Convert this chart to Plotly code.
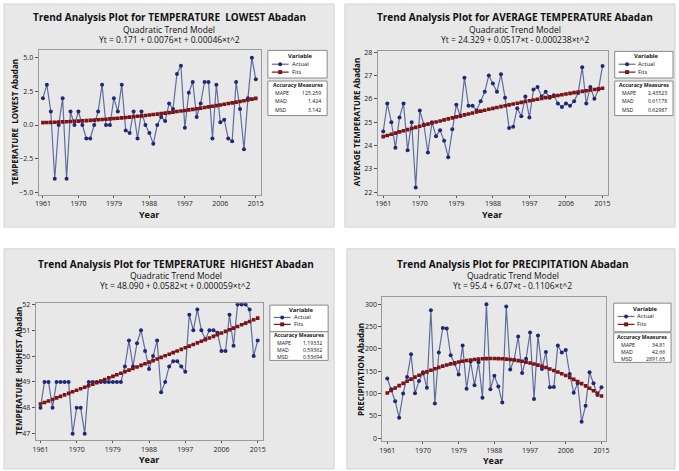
import plotly.graph_objects as go
import numpy as np

W, H = 679, 471

years = list(range(1961, 2016))
year_ticks = [1961, 1970, 1979, 1988, 1997, 2006, 2015]

lowest = [2.0, 3.0, 1.0, -4.0, 0.0, 2.0, -4.0, 1.0, 0.0, 1.0,
          0.0, -1.0, -1.0, 0.0, 1.0, 3.0, 0.0, 0.0, 2.0, 1.0,
          3.0, -0.4, -0.6, 1.0, -1.0, 1.0, 0.0, -0.6, -1.4, 0.0,
          0.6, 0.3, 1.6, 1.2, 3.8, 4.4, -0.2, 2.4, 3.2, 0.6,
          1.6, 3.2, 3.2, -1.0, 3.0, 0.2, 0.4, -1.0, -1.2, 3.2,
          1.2, -1.8, 2.0, 5.0, 3.4]
average = [24.6, 25.8, 25.0, 23.9, 25.2, 25.8, 23.8, 25.0, 22.2, 25.5,
           24.9, 23.7, 25.0, 24.4, 24.65, 24.2, 23.5, 24.7, 25.75, 25.25,
           26.9, 25.7, 25.7, 25.5, 25.9, 26.3, 27.0, 26.65, 26.3, 27.05,
           26.05, 24.75, 24.8, 25.6, 25.25, 26.1, 25.2, 26.4, 26.5, 26.1,
           26.3, 26.05, 26.15, 25.8, 25.65, 25.8, 25.7, 25.9, 26.25, 27.35,
           25.8, 26.5, 26.0, 26.4, 27.4]
highest = [48, 49, 49, 48, 49, 49, 49, 49, 47, 48,
           48, 47, 49, 49, 49, 49, 49, 49, 49, 49,
           49, 49.6, 50.6, 49.6, 50.5, 51.0, 50.2, 49.5, 50.0, 50.6,
           48.6, 49.0, 49.6, 49.8, 49.8, 49.6, 49.4, 51.6, 51.0, 51.8,
           51.0, 50.65, 51.0, 51.0, 50.9, 50.2, 50.2, 51.6, 50.4, 52.0,
           52.0, 52.0, 51.8, 50.0, 50.6]
precip = [134, 110, 83, 46, 100, 137, 188, 101, 128, 148,
          113, 287, 78, 192, 247, 246, 186, 167, 143, 208,
          111, 172, 119, 170, 91, 300, 110, 140, 116, 80,
          295, 154, 176, 228, 146, 178, 237, 88, 230, 155,
          193, 114, 115, 208, 192, 198, 144, 102, 123, 37,
          73, 148, 123, 97, 114]

# Quadratic trend model coefficients as printed on the chart (b0, b1, b2)
coef_lowest = [0.171, 0.0076, 0.00046]
coef_average = [24.329, 0.0517, -0.000238]
coef_highest = [48.090, 0.0582, 0.000059]
coef_precip = [95.4, 6.07, -0.1106]

acc_labels = ["MAPE", "MAD", "MSD"]
acc_lowest = ["125.259", "1.424", "3.142"]
acc_average = ["2.43523", "0.61178", "0.62987"]
acc_highest = ["1.19332", "0.59362", "0.53694"]
acc_precip = ["34.81", "42.66", "2891.65"]

FONT = "Open Sans"
ACT_LINE = "#5f6d9e"
ACT_MARK = "#1f2877"
FIT_COL = "#7a1416"
GRAY = "#e8e8e8"


def X(px):
    return px / W


def Y(py):
    return 1 - py / H


panels = [
    dict(vals=lowest, coef=coef_lowest, acc=acc_lowest,
         title="Trend Analysis Plot for TEMPERATURE  LOWEST Abadan",
         eq="Yt = 0.171 + 0.0076×t + 0.00046×t^2",
         ylab="TEMPERATURE  LOWEST Abadan",
         bg=(0, 0, 334, 226),
         box=(35, 47, 260, 193), xr=[1959.9, 2016.3], yr=[-5.17, 5.55],
         yt=[-5.0, -2.5, 0.0, 2.5, 5.0], yfmt=".1f",
         tx=167, ty=14, ylx=11, yly=120, yearx=147, yeary=213,
         leg=(267, 47, 327, 75), legrows=(53, 61, 69),
         accb=(267, 78, 327, 113), acchead=82.5, accrows=(90, 98.5, 107), combined=False),
    dict(vals=average, coef=coef_average, acc=acc_average,
         title="Trend Analysis Plot for AVERAGE TEMPERATURE Abadan",
         eq="Yt = 24.329 + 0.0517×t - 0.000238×t^2",
         ylab="AVERAGE TEMPERATURE Abadan",
         bg=(345, 0, 679, 226),
         box=(378, 48, 611, 193), xr=[1959.6, 2016.3], yr=[21.9, 28.03],
         yt=[22, 23, 24, 25, 26, 27, 28], yfmt="d",
         tx=517, ty=14, ylx=357, yly=120, yearx=494, yeary=213,
         leg=(618, 48, 677, 75), legrows=(53, 61, 69),
         accb=(618, 78, 677, 113), acchead=82.5, accrows=(90, 98.5, 107), combined=False),
    dict(vals=highest, coef=coef_highest, acc=acc_highest,
         title="Trend Analysis Plot for TEMPERATURE  HIGHEST Abadan",
         eq="Yt = 48.090 + 0.0582×t + 0.000059×t^2",
         ylab="TEMPERATURE  HIGHEST Abadan",
         bg=(0, 248, 334, 471),
         box=(32, 303, 262, 442), xr=[1959.8, 2016.3], yr=[46.74, 52.05],
         yt=[47, 48, 49, 50, 51, 52], yfmt="d",
         tx=174, ty=264, ylx=14, yly=372, yearx=147, yeary=461,
         leg=(269, 305, 328, 332), legrows=(310, 317.5, 324.5),
         accb=(269, 332, 328, 361), acchead=335.5, accrows=(350,), combined=True),
    dict(vals=precip, coef=coef_precip, acc=acc_precip,
         title="Trend Analysis Plot for PRECIPITATION Abadan",
         eq="Yt = 95.4 + 6.07×t - 0.1106×t^2",
         ylab="PRECIPITATION Abadan",
         bg=(347, 248, 679, 471),
         box=(383, 297, 609, 443), xr=[1959.8, 2016.1], yr=[-7, 316],
         yt=[0, 50, 100, 150, 200, 250, 300], yfmt="d",
         tx=515, ty=264, ylx=361, yly=370, yearx=495, yeary=462,
         leg=(617, 303, 675, 332), legrows=(308.5, 316.5, 324.5),
         accb=(617, 333, 675, 363), acchead=337, accrows=(352,), combined=True),
]

fig = go.Figure()
shapes = []
annotations = []
layout_axes = {}


def ann(x, y, text, size, anchor="center", angle=0, align="center"):
    annotations.append(dict(x=X(x), y=Y(y), xref="paper", yref="paper", text=text,
                            showarrow=False, xanchor=anchor, yanchor="middle",
                            textangle=angle, borderpad=0, align=align,
                            font=dict(size=size, family=FONT, color="#111")))


for i, p in enumerate(panels):
    n = i + 1
    xa = "x" if n == 1 else f"x{n}"
    ya = "y" if n == 1 else f"y{n}"
    xkey = "xaxis" if n == 1 else f"xaxis{n}"
    ykey = "yaxis" if n == 1 else f"yaxis{n}"

    t = np.arange(1, len(years) + 1)
    b0, b1, b2 = p["coef"]
    fits = b0 + b1 * t + b2 * t ** 2

    fig.add_trace(go.Scatter(x=years, y=p["vals"], mode="lines+markers",
                             line=dict(color=ACT_LINE, width=1.2),
                             marker=dict(symbol="circle", size=4, color=ACT_MARK),
                             xaxis=xa, yaxis=ya, showlegend=False, name="Actual"))
    fig.add_trace(go.Scatter(x=years, y=fits, mode="lines+markers",
                             line=dict(color=FIT_COL, width=1.5, dash="dot"),
                             marker=dict(symbol="square", size=3.6, color=FIT_COL),
                             xaxis=xa, yaxis=ya, showlegend=False, name="Fits"))

    l, tp, r, b = p["box"]
    common = dict(ticks="outside", tickcolor="#555", showline=True,
                  mirror=True, linecolor="#9a9a9a", linewidth=1, showgrid=False,
                  zeroline=False, tickfont=dict(size=7, color="#222", family=FONT))
    layout_axes[xkey] = dict(domain=[X(l), X(r)], range=p["xr"], anchor=ya, ticklen=2,
                             tickvals=year_ticks, **common)
    layout_axes[ykey] = dict(domain=[Y(b), Y(tp)], range=p["yr"], anchor=xa, ticklen=3,
                             tickvals=p["yt"], tickformat=p["yfmt"], **common)

    # panel background
    bx0, by0, bx1, by1 = p["bg"]
    shapes.append(dict(type="rect", xref="paper", yref="paper", layer="below",
                       x0=X(bx0), x1=X(bx1), y0=Y(by1), y1=Y(by0),
                       fillcolor=GRAY, line=dict(color="#d2d2d2", width=1)))

    # titles
    ann(p["tx"], p["ty"] - 1, "<b>" + p["title"] + "</b>", 10)
    ann(p["tx"], p["ty"] + 11.5, "Quadratic Trend Model", 8.5)
    ann(p["tx"], p["ty"] + 21.5, p["eq"], 8.5)
    ann(p["yearx"], p["yeary"], "<b>Year</b>", 9)
    ann(p["ylx"], p["yly"], "<b>" + p["ylab"] + "</b>", 8, angle=-90)

    # legend box
    lx0, ly0, lx1, ly1 = p["leg"]
    shapes.append(dict(type="rect", xref="paper", yref="paper",
                       x0=X(lx0), x1=X(lx1), y0=Y(ly1), y1=Y(ly0),
                       fillcolor="white", line=dict(color="#8a8a8a", width=1)))
    cx = (lx0 + lx1) / 2
    ann(cx + 3, p["legrows"][0], "<b>Variable</b>", 5.8)
    for k, (lab, col, sym) in enumerate([("Actual", ACT_LINE, "circle"),
                                          ("Fits", FIT_COL, "square")]):
        yy = p["legrows"][k + 1]
        mc = ACT_MARK if sym == "circle" else FIT_COL
        shapes.append(dict(type="line", xref="paper", yref="paper",
                           x0=X(lx0 + 4), x1=X(lx0 + 21), y0=Y(yy), y1=Y(yy),
                           line=dict(color=col, width=1.2)))
        shapes.append(dict(type="circle" if sym == "circle" else "rect",
                           xref="paper", yref="paper",
                           x0=X(lx0 + 10.5), x1=X(lx0 + 14.5), y0=Y(yy + 2), y1=Y(yy - 2),
                           fillcolor=mc, line=dict(color=mc, width=0)))
        ann(lx0 + 23, yy, lab, 5.8, anchor="left")

    # accuracy box
    ax0, ay0, ax1, ay1 = p["accb"]
    shapes.append(dict(type="rect", xref="paper", yref="paper",
                       x0=X(ax0), x1=X(ax1), y0=Y(ay1), y1=Y(ay0),
                       fillcolor="white", line=dict(color="#8a8a8a", width=1)))
    ann((ax0 + ax1) / 2, p["acchead"], "<b>Accuracy Measures</b>", 5.2)
    if p["combined"]:
        ann(ax0 + 6, p["accrows"][0], "<br>".join(acc_labels), 5.2,
            anchor="left", align="left")
        ann(ax1 - 5, p["accrows"][0], "<br>".join(p["acc"]), 5.2,
            anchor="right", align="right")
    else:
        for k, (lab, val) in enumerate(zip(acc_labels, p["acc"])):
            ann(ax0 + 6, p["accrows"][k], lab, 5.2, anchor="left")
            ann(ax1 - 5, p["accrows"][k], val, 5.2, anchor="right")

fig.update_layout(width=W, height=H, margin=dict(l=0, r=0, t=0, b=0),
                  paper_bgcolor="white", plot_bgcolor="white",
                  showlegend=False, shapes=shapes, annotations=annotations,
                  font=dict(family=FONT), **layout_axes)

fig.write_html("out.html")
